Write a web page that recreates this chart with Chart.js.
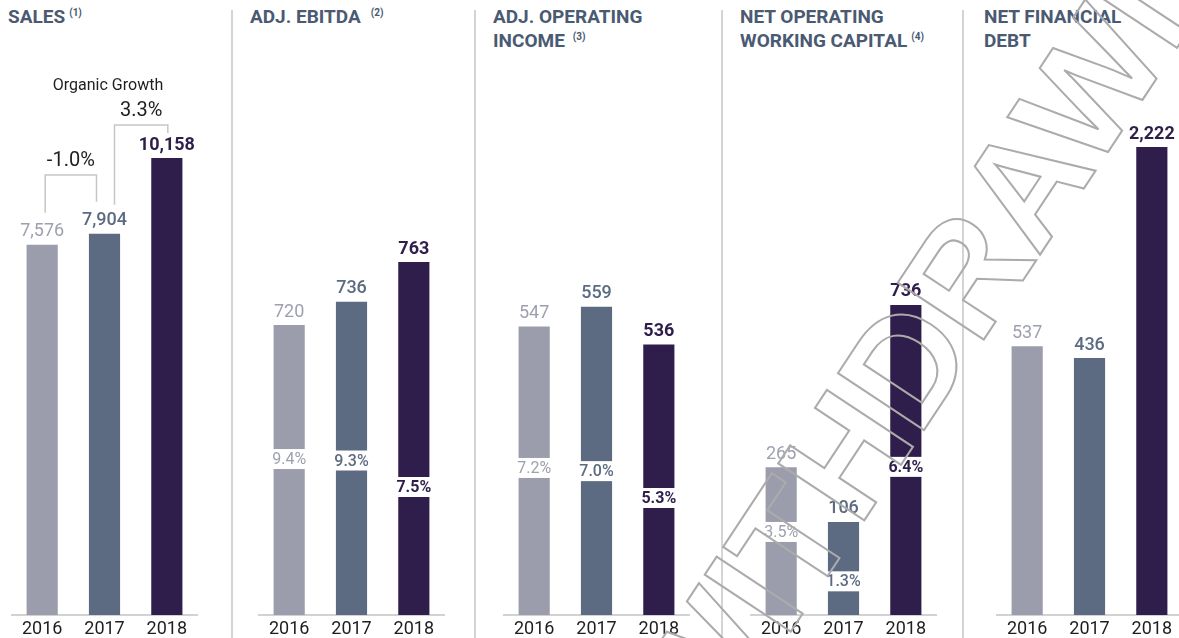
<!DOCTYPE html>
<html>
<head>
<meta charset="utf-8">
<script src="https://cdn.jsdelivr.net/npm/chart.js@4.4.1/dist/chart.umd.min.js"></script>
<style>
  body { margin: 0; background: #fff; }
  #wrap { position: relative; width: 1179px; height: 638px; overflow: hidden; background: #fff; font-family: Roboto, 'Noto Sans', sans-serif; }
  .title { position: absolute; top: 5px; color: #4A5A72; font-weight: 700; font-size: 19px; line-height: 24px; white-space: nowrap; }
  .title .note { font-size: 10px; position: relative; top: -7px; margin-left: 4px; }
  .divider { position: absolute; top: 10px; width: 2px; height: 628px; background: #D4D4D4; }
  canvas { position: absolute; top: 0; }
  #stamp { position: absolute; left: 0; top: 0; pointer-events: none; }
</style>
</head>
<body>
<div id="wrap">
  <div class="title" style="left:8px">SALES<span class="note">(1)</span></div>
  <div class="title" style="left:250px">ADJ. EBITDA<span class="note" style="margin-left:10px">(2)</span></div>
  <div class="title" style="left:493px">ADJ. OPERATING<br>INCOME<span class="note" style="margin-left:8px">(3)</span></div>
  <div class="title" style="left:740px">NET OPERATING<br>WORKING CAPITAL<span class="note">(4)</span></div>
  <div class="title" style="left:984px">NET FINANCIAL<br>DEBT</div>

  <div class="divider" style="left:231px"></div>
  <div class="divider" style="left:474px"></div>
  <div class="divider" style="left:721px"></div>
  <div class="divider" style="left:962px"></div>

  <canvas id="sales" width="187" height="638" style="left:11px"></canvas>
  <canvas id="ebitda" width="187" height="638" style="left:258px"></canvas>
  <canvas id="opincome" width="187" height="638" style="left:503px"></canvas>
  <canvas id="nowc" width="187" height="638" style="left:750px"></canvas>
  <canvas id="debt" width="187" height="638" style="left:996px"></canvas>

  <svg id="stamp" width="1179" height="638">
    <text transform="translate(707,758) rotate(-56.5)" font-family="Liberation Sans, Arial, sans-serif" font-weight="bold" font-size="150" fill="none" stroke="#ABABAB" stroke-width="2">WITHDRAWN</text>
  </svg>
</div>

<script>
const years = ['2016', '2017', '2018'];
const sales = [7576, 7904, 10158];
const organicGrowth = [-1.0, 3.3];
const ebitda = [720, 736, 763];
const ebitdaMargin = [9.4, 9.3, 7.5];
const opIncome = [547, 559, 536];
const opMargin = [7.2, 7.0, 5.3];
const workingCapital = [265, 106, 736];
const workingCapitalShare = [3.5, 1.3, 6.4];
const netDebt = [537, 436, 2222];

const barColors = ['#9C9DAC', '#5D6B82', '#2F1E4B'];
const textColors = ['#9EA0AF', '#5D6B82', '#2F1E4B'];
const textWeights = [400, 500, 700];

// value labels above the bars, percentage labels cut into the bars
const barLabels = {
  id: 'barLabels',
  afterDatasetsDraw(chart) {
    const ctx = chart.ctx;
    const bars = chart.getDatasetMeta(0).data;
    const values = chart.data.datasets[0].data;
    const pctSet = chart.data.datasets[1];
    const pctMeta = pctSet ? chart.getDatasetMeta(1).data : null;
    ctx.save();
    ctx.textAlign = 'center';
    ctx.textBaseline = 'middle';
    bars.forEach((bar, i) => {
      ctx.fillStyle = textColors[i];
      ctx.font = textWeights[i] + ' 18px Roboto';
      ctx.fillText(values[i].toLocaleString('en-US'), bar.x, bar.y - 13);
      if (pctMeta) {
        const y = pctMeta[i].y;
        ctx.fillStyle = '#fff';
        ctx.fillRect(bar.x - bar.width / 2 - 1, y - 10, bar.width + 2, 20);
        ctx.fillStyle = textColors[i];
        ctx.font = textWeights[i] + ' 16px Roboto';
        ctx.fillText(pctSet.data[i].toFixed(1) + '%', bar.x, y + 1);
      }
    });
    ctx.restore();
  }
};

// organic growth brackets on the sales panel
const growthBrackets = {
  id: 'growthBrackets',
  afterDatasetsDraw(chart) {
    const ctx = chart.ctx;
    const bars = chart.getDatasetMeta(0).data;
    const defs = [
      { a: 0, b: 1, dxA: 3, dxB: -8, dyA: -32, dyB: -32, top: 175 },
      { a: 1, b: 2, dxA: 10, dxB: 1, dyA: -29, dyB: -25, top: 125 }
    ];
    ctx.save();
    ctx.strokeStyle = '#C6C6C6';
    ctx.lineWidth = 1.5;
    ctx.fillStyle = '#1E1E1E';
    ctx.textAlign = 'center';
    ctx.textBaseline = 'middle';
    defs.forEach((d, i) => {
      const x1 = bars[d.a].x + d.dxA, x2 = bars[d.b].x + d.dxB;
      ctx.beginPath();
      ctx.moveTo(x1, bars[d.a].y + d.dyA);
      ctx.lineTo(x1, d.top);
      ctx.lineTo(x2, d.top);
      ctx.lineTo(x2, bars[d.b].y + d.dyB);
      ctx.stroke();
      ctx.font = '400 20px Roboto';
      ctx.fillText(organicGrowth[i].toFixed(1) + '%', (x1 + x2) / 2, d.top - 14);
    });
    ctx.font = '400 16px Roboto';
    ctx.fillText('Organic Growth', 97, 86);
    ctx.restore();
  }
};

function makePanel(id, values, range, pct, pctRange, extra) {
  const datasets = [{
    type: 'bar',
    data: values,
    backgroundColor: barColors,
    base: range[0],
    barPercentage: 0.5,
    categoryPercentage: 1.0
  }];
  if (pct) {
    datasets.push({
      type: 'line',
      data: pct,
      yAxisID: 'pct',
      showLine: false,
      pointRadius: 0
    });
  }
  const pr = pctRange || [0, 10];
  return new Chart(document.getElementById(id).getContext('2d'), {
    type: 'bar',
    data: { labels: years, datasets: datasets },
    options: {
      responsive: false,
      animation: false,
      layout: { padding: 0 },
      scales: {
        x: {
          type: 'category',
          offset: true,
          grid: { display: true, drawOnChartArea: false, drawTicks: false },
          border: { display: true, color: '#D2D2D2', width: 2 },
          ticks: { color: '#1E1E1E', font: { family: 'Roboto', size: 18 }, padding: 4, maxRotation: 0, autoSkip: false },
          afterFit(scale) { scale.height = 23; }
        },
        y: { type: 'linear', display: false, min: range[0], max: range[1] },
        pct: { type: 'linear', position: 'right', display: false, min: pr[0], max: pr[1] }
      },
      plugins: { legend: { display: false }, tooltip: { enabled: false } }
    },
    plugins: [barLabels].concat(extra || [])
  });
}

makePanel('sales', sales, [-3443, 14861], null, null, [growthBrackets]);
makePanel('ebitda', ebitda, [522, 942], ebitdaMargin, [-1.2, 40.6]);
makePanel('opincome', opIncome, [372, 745], opMargin, [-2.1, 36.8]);
makePanel('nowc', workingCapital, [-164, 1621], workingCapitalShare, [-0.2, 27.2]);
makePanel('debt', netDebt, [-1739, 3467]);
</script>
</body>
</html>
